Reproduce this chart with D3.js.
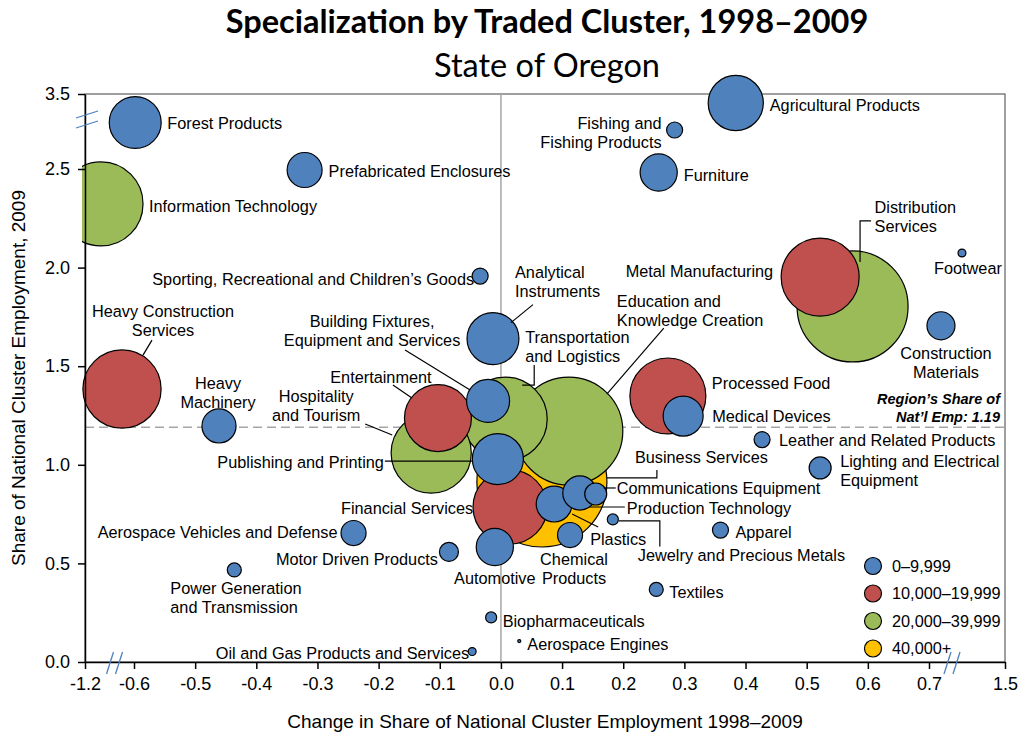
<!DOCTYPE html>
<html>
<head>
<meta charset="utf-8">
<script src="https://cdn.jsdelivr.net/npm/d3@7"></script>
<style>
  body { margin: 0; background: #fff; }
  text { font-family: "Liberation Sans", Arial, sans-serif; }
</style>
</head>
<body>
<div id="chart"></div>
<script>
// Chart data
const clusters = [
  "Forest Products", "Prefabricated Enclosures", "Information Technology",
  "Sporting, Recreational and Children’s Goods", "Analytical Instruments",
  "Heavy Construction Services", "Heavy Machinery", "Entertainment",
  "Hospitality and Tourism", "Building Fixtures, Equipment and Services",
  "Transportation and Logistics", "Publishing and Printing",
  "Education and Knowledge Creation", "Business Services", "Financial Services",
  "Automotive", "Plastics", "Production Technology", "Communications Equipment",
  "Chemical Products", "Jewelry and Precious Metals", "Motor Driven Products",
  "Aerospace Vehicles and Defense", "Power Generation and Transmission",
  "Biopharmaceuticals", "Oil and Gas Products and Services", "Aerospace Engines",
  "Textiles", "Apparel", "Leather and Related Products",
  "Lighting and Electrical Equipment", "Medical Devices", "Processed Food",
  "Metal Manufacturing", "Distribution Services", "Footwear",
  "Construction Materials", "Agricultural Products", "Fishing and Fishing Products",
  "Furniture"
];
const shareChange = [
  -0.598, -0.321, -1.004, -0.034, -0.013, -0.747, -0.461, -0.103, -0.114, -0.021,
  0.007, -0.005, 0.111, 0.067, 0.015, -0.010, 0.087, 0.129, 0.155, 0.113,
  0.183, -0.085, -0.241, -0.436, -0.016, -0.047, 0.030, 0.254, 0.359, 0.427,
  0.522, 0.298, 0.273, 0.522, 0.575, 1.047, 0.826, 0.384, 0.284, 0.258
];
const share2009 = [
  3.12, 2.495, 2.323, 1.957, 1.640, 1.384, 1.197, 1.237, 1.060, 1.324,
  1.232, 1.029, 1.171, 0.913, 0.786, 0.583, 0.801, 0.857, 0.852, 0.644,
  0.723, 0.558, 0.654, 0.467, 0.226, 0.053, 0.106, 0.368, 0.669, 1.128,
  0.984, 1.247, 1.349, 1.952, 1.803, 2.074, 1.705, 3.38, 3.02, 2.482
];
const employment = [
  8600, 3900, 22500, 820, 8600, 19500, 3700, 14300, 20500, 5900,
  22500, 8300, 37200, 53900, 17500, 4400, 4100, 3700, 1540, 2000,
  390, 1150, 2000, 625, 390, 200, 30, 625, 820, 820,
  1540, 5100, 18400, 19400, 39300, 200, 2500, 9700, 820, 4400
];

const xTicks = [-1.2, -0.6, -0.5, -0.4, -0.3, -0.2, -0.1, 0.0, 0.1, 0.2, 0.3, 0.4, 0.5, 0.6, 0.7, 1.5];
const yTicks = [0.0, 0.5, 1.0, 1.5, 2.0, 2.5, 3.5];
const regionShare = 1.19;

const legendLabels = ["0–9,999", "10,000–19,999", "20,000–39,999", "40,000+"];
const legendColors = ["#4F81BD", "#C0504D", "#9BBB59", "#FFC000"];
const sizeBreaks = [10000, 20000, 40000];

// Label placement, offsets in px from bubble centre
const labelLayout = {
  "Forest Products": { dx: 32, dy: 1, a: "start" },
  "Prefabricated Enclosures": { dx: 24, dy: 1, a: "start" },
  "Information Technology": { dx: 48, dy: 2, a: "start" },
  "Sporting, Recreational and Children’s Goods": { dx: -6, dy: 3, a: "end" },
  "Analytical Instruments": { dx: 22, dy: -66, a: "start", lines: ["Analytical", "Instruments"], lead: [[18, -16], [40, -34]] },
  "Heavy Construction Services": { dx: 41, dy: -78, a: "middle", lines: ["Heavy Construction", "Services"], lead: [[21, -34], [30, -49]] },
  "Heavy Machinery": { dx: -1, dy: -43, a: "middle", lines: ["Heavy", "Machinery"] },
  "Entertainment": { dx: -57, dy: -41, a: "middle", lead: [[-45, -33], [-26, -20]] },
  "Hospitality and Tourism": { dx: -115, dy: -57, a: "middle", lines: ["Hospitality", "and Tourism"], lead: [[-66, -29], [-39, -18]] },
  "Building Fixtures, Equipment and Services": { dx: -116, dy: -80, a: "middle", lines: ["Building Fixtures,", "Equipment and Services"], lead: [[-83, -51], [-18, -11]] },
  "Transportation and Logistics": { dx: 20, dy: -82, a: "start", lines: ["Transportation", "and Logistics"], lead: [[29, -54], [29, -34], [17, -34]] },
  "Publishing and Printing": { dx: -114, dy: 3, a: "end", lead: [[-113, 2], [-25, 2]] },
  "Education and Knowledge Creation": { dx: 48, dy: -130, a: "start", lines: ["Education and", "Knowledge Creation"], lead: [[95, -103], [38, -37]] },
  "Business Services": { dx: 93, dy: -25, a: "start", lead: [[115, -12], [115, -4], [65, -4]] },
  "Financial Services": { dx: -37, dy: 1, a: "end" },
  "Automotive": { dx: 0, dy: 31, a: "middle" },
  "Plastics": { dx: 36, dy: 35, a: "start", lead: [[44, 23], [18, 10]] },
  "Production Technology": { dx: 47, dy: 15, a: "start", lead: [[45, 14], [10, 14]] },
  "Communications Equipment": { dx: 21, dy: -6, a: "start", lead: [[20, -6], [8, -6]] },
  "Chemical Products": { dx: 4, dy: 24, a: "middle", lines: ["Chemical", "Products"] },
  "Jewelry and Precious Metals": { dx: 25, dy: 36, a: "start", lead: [[6, 1.5], [47, 1.5], [47, 27]] },
  "Motor Driven Products": { dx: -11, dy: 7, a: "end" },
  "Aerospace Vehicles and Defense": { dx: -16, dy: -1, a: "end" },
  "Power Generation and Transmission": { dx: -64, dy: 18, a: "start", lines: ["Power Generation", "and Transmission"] },
  "Biopharmaceuticals": { dx: 11.5, dy: 3.5, a: "start" },
  "Oil and Gas Products and Services": { dx: -3, dy: 2, a: "end" },
  "Aerospace Engines": { dx: 8, dy: 3, a: "start" },
  "Textiles": { dx: 13, dy: 2.5, a: "start" },
  "Apparel": { dx: 15, dy: 2, a: "start" },
  "Leather and Related Products": { dx: 17, dy: 1, a: "start" },
  "Lighting and Electrical Equipment": { dx: 20, dy: -7, a: "start", lines: ["Lighting and Electrical", "Equipment"] },
  "Medical Devices": { dx: 29, dy: 0, a: "start" },
  "Processed Food": { dx: 44, dy: -13, a: "start" },
  "Metal Manufacturing": { dx: -47, dy: -6, a: "end" },
  "Distribution Services": { dx: 22, dy: -99, a: "start", lines: ["Distribution", "Services"], lead: [[7.5, -44.5], [7.5, -85.5], [18.5, -85.5]] },
  "Footwear": { dx: 6, dy: 15, a: "middle" },
  "Construction Materials": { dx: 5, dy: 27.5, a: "middle", lines: ["Construction", "Materials"] },
  "Agricultural Products": { dx: 34, dy: 2, a: "start" },
  "Fishing and Fishing Products": { dx: -13, dy: -7, a: "end", lines: ["Fishing and", "Fishing Products"] },
  "Furniture": { dx: 25, dy: 2.5, a: "start" }
};

const width = 1028, height = 738;
const plot = { left: 85, right: 1005, top: 94, bottom: 662 };
const labelSize = "16.3px";

const svg = d3.select("#chart").append("svg")
  .attr("width", width)
  .attr("height", height);

// Broken axes: piecewise linear scales
const x = d3.scaleLinear()
  .domain([-1.2, -0.6, 0.7, 1.5])
  .range([plot.left, 134, 929, plot.right]);
const y = d3.scaleLinear()
  .domain([0, 2.5, 3.5])
  .range([plot.bottom, 169, plot.top]);

const r = d3.scaleSqrt().domain([0, 60000]).range([0, 68.6]);
const color = d3.scaleThreshold().domain(sizeBreaks).range(legendColors);

// Titles
svg.append("text")
  .attr("x", 547).attr("y", 33)
  .attr("text-anchor", "middle")
  .style("font-family", "Lato, 'Open Sans', sans-serif")
  .style("font-weight", "bold")
  .style("font-size", "32.5px")
  .text("Specialization by Traded Cluster, 1998–2009");
svg.append("text")
  .attr("x", 547).attr("y", 77)
  .attr("text-anchor", "middle")
  .style("font-family", "Lato, 'Open Sans', sans-serif")
  .style("font-size", "32.5px")
  .text("State of Oregon");

// Plot frame
svg.append("rect")
  .attr("x", plot.left).attr("y", plot.top)
  .attr("width", plot.right - plot.left)
  .attr("height", plot.bottom - plot.top)
  .attr("fill", "none")
  .attr("stroke", "#404040")
  .attr("stroke-width", 1);

// Reference lines
svg.append("line")
  .attr("x1", x(0)).attr("x2", x(0))
  .attr("y1", plot.top).attr("y2", plot.bottom)
  .attr("stroke", "#a6a6a6").attr("stroke-width", 1.5);
svg.append("line")
  .attr("x1", plot.left).attr("x2", plot.right)
  .attr("y1", y(regionShare)).attr("y2", y(regionShare))
  .attr("stroke", "#a6a6a6").attr("stroke-width", 1.5)
  .attr("stroke-dasharray", "9,5");

// Bubbles
svg.append("clipPath").attr("id", "clip")
  .append("rect").attr("x", 82).attr("y", 0)
  .attr("width", width - 82).attr("height", height);

const data = clusters.map((name, i) => ({
  name: name, dx: shareChange[i], sy: share2009[i], emp: employment[i]
}));

svg.append("g").attr("clip-path", "url(#clip)")
  .selectAll("circle")
  .data(data.slice().sort((a, b) => b.emp - a.emp))
  .join("circle")
  .attr("cx", d => x(d.dx))
  .attr("cy", d => y(d.sy))
  .attr("r", d => r(d.emp))
  .attr("fill", d => color(d.emp))
  .attr("stroke", "#000")
  .attr("stroke-width", 1.2);

// Labels and leader lines
const lab = svg.append("g");
data.forEach(d => {
  const L = labelLayout[d.name];
  const cx = x(d.dx), cy = y(d.sy);
  if (L.lead) {
    lab.append("path")
      .attr("d", d3.line()(L.lead.map(p => [cx + p[0], cy + p[1]])))
      .attr("fill", "none")
      .attr("stroke", "#000")
      .attr("stroke-width", 1.2);
  }
  const lines = L.lines || [d.name];
  const t = lab.append("text")
    .attr("text-anchor", L.a)
    .style("font-size", labelSize)
    .attr("fill", "#000");
  lines.forEach((s, k) => {
    t.append("tspan")
      .attr("x", cx + L.dx)
      .attr("y", cy + L.dy + k * 19)
      .attr("dy", "0.35em")
      .text(s);
  });
});

// Region share note
const note = svg.append("text")
  .attr("text-anchor", "end")
  .style("font-size", "14.5px")
  .style("font-weight", "bold")
  .style("font-style", "italic");
["Region’s Share of", "Nat’l Emp: " + regionShare.toFixed(2)].forEach((s, k) => {
  note.append("tspan").attr("x", 1000).attr("y", 399 + k * 18).attr("dy", "0.35em").text(s);
});

// Axes
const xAxis = svg.append("g")
  .attr("transform", `translate(0,${plot.bottom})`)
  .call(d3.axisBottom(x).tickValues(xTicks).tickSize(7).tickSizeOuter(0).tickPadding(8)
    .tickFormat(d => d.toFixed(1)));
const yAxis = svg.append("g")
  .attr("transform", `translate(${plot.left},0)`)
  .call(d3.axisLeft(y).tickValues(yTicks).tickSize(7).tickSizeOuter(0).tickPadding(8)
    .tickFormat(d => d.toFixed(1)));
[xAxis, yAxis].forEach(g => {
  g.select(".domain").attr("stroke", "#000").attr("stroke-width", 1.5);
  g.selectAll(".tick line").attr("stroke", "#000").attr("stroke-width", 1.5);
  g.selectAll(".tick text")
    .style("font-family", "'Liberation Sans', Arial, sans-serif")
    .style("font-size", "18px").attr("fill", "#000");
});

// Axis break marks
const breakColor = "#4F81BD";
const bx1 = (x(-1.2) + x(-0.6)) / 2 + 5;
const bx2 = 952;
[bx1, bx2].forEach(bx => {
  [-4.5, 4.5].forEach(o => {
    svg.append("line")
      .attr("x1", bx + o - 3.5).attr("y1", plot.bottom + 12)
      .attr("x2", bx + o + 3.5).attr("y2", plot.bottom - 10)
      .attr("stroke", breakColor).attr("stroke-width", 1.3);
  });
});
const by = (y(2.5) + y(3.5)) / 2 - 12;
[-5, 5].forEach(o => {
  svg.append("line")
    .attr("x1", plot.left - 9).attr("y1", by + o + 3.5)
    .attr("x2", plot.left + 13).attr("y2", by + o - 3.5)
    .attr("stroke", breakColor).attr("stroke-width", 1.3);
});

// Axis titles
svg.append("text")
  .attr("x", (plot.left + plot.right) / 2).attr("y", 728)
  .attr("text-anchor", "middle")
  .style("font-size", "19px")
  .text("Change in Share of National Cluster Employment 1998–2009");
svg.append("text")
  .attr("transform", `translate(25,${(plot.top + plot.bottom) / 2}) rotate(-90)`)
  .attr("text-anchor", "middle")
  .style("font-size", "19px")
  .text("Share of National Cluster Employment, 2009");

// Legend
const legend = svg.append("g");
legendLabels.forEach((lbl, i) => {
  const ly = 566 + i * 27.5;
  legend.append("circle")
    .attr("cx", 873).attr("cy", ly).attr("r", 8.5)
    .attr("fill", legendColors[i]).attr("stroke", "#000").attr("stroke-width", 1.2);
  legend.append("text")
    .attr("x", 892).attr("y", ly).attr("dy", "0.35em")
    .style("font-size", labelSize)
    .text(lbl);
});
</script>
</body>
</html>
